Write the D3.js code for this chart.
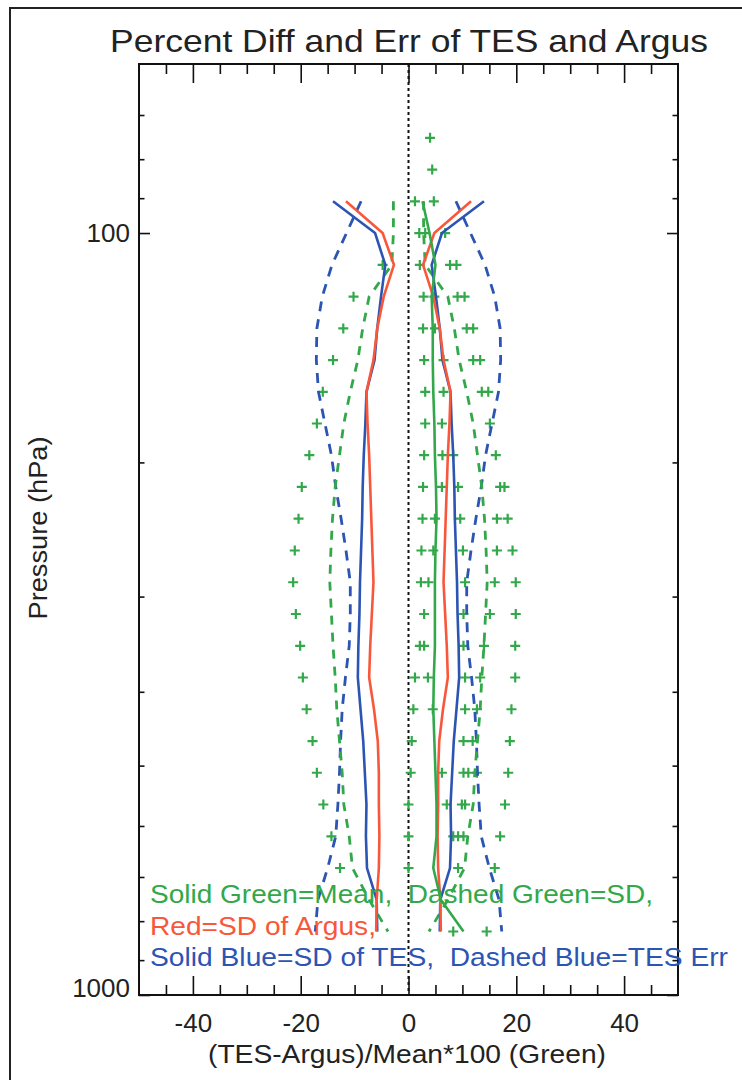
<!DOCTYPE html>
<html>
<head>
<meta charset="utf-8">
<script src="https://cdn.jsdelivr.net/npm/d3@7"></script>
<style>
  body { margin: 0; background: #fff; }
  svg { display: block; }
  text { font-family: "Liberation Sans", Arial, sans-serif; }
</style>
</head>
<body>
<svg id="chart" width="742" height="1080"></svg>
<script>
// TES pressure levels (hPa) used by the profile lines, top to bottom
const levels = [90.85, 100, 110.1, 121.2, 133.4, 146.8, 161.6, 177.8, 195.7, 215.4, 237.1, 261.0,
                287.3, 316.2, 348.1, 383.1, 421.7, 464.2, 510.9, 562.3, 619.0, 681.3, 749.9, 825.4];

// percent values at each level
const meanDiff = [2.6, 3.9, 5.0, 4.3, 4.5, 4.5, 4.6, 4.8, 4.9, 5.1, 5.2, 5.0,
                  4.9, 4.9, 4.9, 4.7, 4.6, 4.8, 5.0, 5.2, 5.2, 4.6, 6.0, 10.2];
const sdDiff   = [2.8, 2.8, 3.1, 7.3, 8.5, 9.4, 10.8, 12.0, 12.8, 13.6, 14.1, 14.4,
                  14.6, 14.3, 14.0, 13.6, 13.3, 12.8, 12.3, 12.0, 11.0, 10.4, 7.3, 3.8];
const sdArgus  = [11.6, 4.8, 2.7, 4.6, 5.8, 6.5, 7.8, 7.6, 7.3, 7.1, 6.9, 6.7,
                  6.5, 6.8, 7.1, 7.3, 6.4, 5.7, 5.5, 5.5, 5.4, 5.5, 5.9, 6.0];
const sdTes    = [14.0, 6.2, 4.3, 5.1, 5.8, 6.3, 7.8, 8.0, 8.3, 8.5, 8.6, 8.8,
                  9.0, 9.1, 9.3, 9.4, 8.9, 8.4, 8.1, 7.8, 7.9, 7.7, 5.9, 5.8];
const tesErr   = [8.8, 11.5, 14.2, 16.0, 17.0, 17.1, 16.7, 15.5, 14.3, 13.5, 12.5, 11.6,
                  10.8, 10.8, 11.0, 11.7, 12.3, 12.6, 12.8, 13.1, 13.5, 15.0, 16.8, 17.3];

// individual percent differences (green crosses)
const crossLevels = [75.0, 82.54, 90.85, 100, 110.1, 121.2, 133.4, 146.8, 161.6, 177.8, 195.7,
                     215.4, 237.1, 261.0, 287.3, 316.2, 348.1, 383.1, 421.7, 464.2, 510.9,
                     562.3, 619.0, 681.3, 825.4];
const crossValues = [
  [4.0],
  [4.4],
  [1.2, 4.7],
  [2.0, 3.1, 6.8],
  [-4.8, 2.1, 7.7, 8.9],
  [-10.2, 2.8, 4.8, 9.1, 10.4],
  [-12.1, 2.7, 4.9, 10.8, 12.0],
  [-14.0, 2.9, 6.5, 12.0, 13.3],
  [-15.9, 3.1, 6.5, 13.6, 14.8],
  [-17.0, 3.1, 6.2, 15.1],
  [-18.4, 2.9, 6.3, 8.3, 16.2],
  [-19.8, 2.7, 6.2, 9.2, 17.0, 17.8],
  [-20.4, 2.6, 4.9, 9.6, 16.4, 18.4],
  [-21.1, 2.4, 4.6, 10.1, 16.4, 19.3],
  [-21.4, 2.3, 3.7, 10.5, 16.0, 19.9],
  [-20.9, 2.9, 10.2, 15.1, 19.9],
  [-20.1, 2.1, 2.9, 10.2, 14.0, 19.8],
  [-19.6, 1.2, 3.6, 10.5, 13.3, 19.8],
  [-18.9, 0.9, 4.5, 10.5, 12.7, 19.1],
  [-17.8, 0.6, 10.2, 11.9, 18.8],
  [-17.0, 0.4, 6.2, 10.2, 11.1, 12.7, 18.5],
  [-15.8, 0.0, 7.1, 9.9, 10.5, 17.9],
  [-14.3, 0.0, 8.3, 9.2, 10.2, 17.0],
  [-12.7, 0.0, 9.2, 16.0],
  [8.3, 14.5]
];

const xMajor = [-40, -20, 0, 20, 40];
const xMinor = [-45, -35, -30, -25, -15, -10, -5, 5, 10, 15, 25, 30, 35, 45];
const yMajor = [100, 1000];

const green = "#33a84a", red = "#f8573c", blue = "#2c55b3";

const svg = d3.select("#chart");
const x = d3.scaleLinear().domain([-50, 50]).range([139, 678]);
const y = d3.scaleLog().domain([60, 1000]).range([64, 995]);
const yMinor = y.ticks().filter(t => yMajor.indexOf(t) < 0 && t > 60);
const plain = d => String(d);

// outer frame of the figure
svg.append("path").attr("d", "M10,1080V8H742")
  .attr("fill", "none").attr("stroke", "#222").attr("stroke-width", 2);

// axes, ticks pointing inward
function styleAxis(g) {
  g.select(".domain").remove();
  g.selectAll("line").attr("stroke", "#111").attr("stroke-width", 1.6);
  g.selectAll("text").attr("font-size", 26).attr("fill", "#222")
    .attr("font-family", "'Liberation Sans', Arial, sans-serif");
}
svg.append("g").attr("transform", "translate(0,995)")
  .call(d3.axisBottom(x).tickValues(xMajor).tickSize(-19).tickPadding(19).tickFormat(plain))
  .call(styleAxis);
svg.append("g").attr("transform", "translate(0,995)")
  .call(d3.axisBottom(x).tickValues(xMinor).tickSize(-10).tickFormat(""))
  .call(styleAxis);
svg.append("g").attr("transform", "translate(0,64)")
  .call(d3.axisTop(x).tickValues(xMajor).tickSize(-19).tickFormat(""))
  .call(styleAxis);
svg.append("g").attr("transform", "translate(0,64)")
  .call(d3.axisTop(x).tickValues(xMinor).tickSize(-10).tickFormat(""))
  .call(styleAxis);
const yLabels = svg.append("g").attr("transform", "translate(139,0)")
  .call(d3.axisLeft(y).tickValues(yMajor).tickSize(-11).tickPadding(9).tickFormat(plain))
  .call(styleAxis);
// the 1000 label sits a little above its tick in the original
yLabels.selectAll("text").filter(d => d === 1000).attr("dy", "0.05em");
svg.append("g").attr("transform", "translate(139,0)")
  .call(d3.axisLeft(y).tickValues(yMinor).tickSize(-5.5).tickFormat(""))
  .call(styleAxis);
svg.append("g").attr("transform", "translate(678,0)")
  .call(d3.axisRight(y).tickValues(yMajor).tickSize(-11).tickFormat(""))
  .call(styleAxis);
svg.append("g").attr("transform", "translate(678,0)")
  .call(d3.axisRight(y).tickValues(yMinor).tickSize(-5.5).tickFormat(""))
  .call(styleAxis);

svg.append("rect").attr("x", 139).attr("y", 64).attr("width", 539).attr("height", 931)
  .attr("fill", "none").attr("stroke", "#111").attr("stroke-width", 2);

// zero line
svg.append("line")
  .attr("x1", x(0)).attr("x2", x(0)).attr("y1", y(60)).attr("y2", y(1000))
  .attr("stroke", "#111").attr("stroke-width", 2).attr("stroke-dasharray", "3,3");

// crosses
const crosses = crossLevels.flatMap((p, i) => crossValues[i].map(v => ({ p: p, v: v })));
svg.append("g").selectAll("path").data(crosses).enter().append("path")
  .attr("transform", d => "translate(" + x(d.v) + "," + y(d.p) + ")")
  .attr("d", "M-5,0H5M0,-5V5")
  .attr("stroke", green).attr("stroke-width", 2.2).attr("fill", "none");

// profile lines
const line = d3.line().x(d => x(d.v)).y(d => y(d.p));
function profile(vals, sign, color, dash, width) {
  svg.append("path")
    .datum(levels.map((p, i) => ({ p: p, v: sign * vals[i] })))
    .attr("d", line)
    .attr("fill", "none").attr("stroke", color).attr("stroke-width", width)
    .attr("stroke-dasharray", dash);
}
[1, -1].forEach(s => profile(tesErr, s, blue, "10,8", 2.8));
[1, -1].forEach(s => profile(sdDiff, s, green, "9,8", 2.8));
[1, -1].forEach(s => profile(sdTes, s, blue, null, 2.6));
[1, -1].forEach(s => profile(sdArgus, s, red, null, 2.6));
profile(meanDiff, 1, green, null, 2.6);

// titles
svg.append("text").attr("x", 409).attr("y", 52).attr("text-anchor", "middle")
  .attr("font-size", 32).attr("fill", "#222")
  .attr("textLength", 598).attr("lengthAdjust", "spacingAndGlyphs")
  .text("Percent Diff and Err of TES and Argus");
svg.append("text").attr("x", 407).attr("y", 1063).attr("text-anchor", "middle")
  .attr("font-size", 26).attr("fill", "#222")
  .attr("textLength", 398).attr("lengthAdjust", "spacingAndGlyphs")
  .text("(TES-Argus)/Mean*100 (Green)");
svg.append("text").attr("transform", "translate(47,528) rotate(-90)").attr("text-anchor", "middle")
  .attr("font-size", 26).attr("fill", "#222")
  .attr("textLength", 183).attr("lengthAdjust", "spacingAndGlyphs")
  .text("Pressure (hPa)");

// legend notes
const notes = [
  { t: "Solid Green=Mean,\u00a0\u00a0Dashed Green=SD,", c: green, y: 903, w: 503 },
  { t: "Red=SD of Argus,", c: red, y: 935, w: 226 },
  { t: "Solid Blue=SD of TES,\u00a0\u00a0Dashed Blue=TES Err", c: blue, y: 966, w: 578 }
];
svg.append("g").selectAll("text").data(notes).enter().append("text")
  .attr("x", 150).attr("y", d => d.y)
  .attr("font-size", 25).attr("fill", d => d.c)
  .attr("textLength", d => d.w).attr("lengthAdjust", "spacingAndGlyphs")
  .text(d => d.t);
</script>
</body>
</html>
